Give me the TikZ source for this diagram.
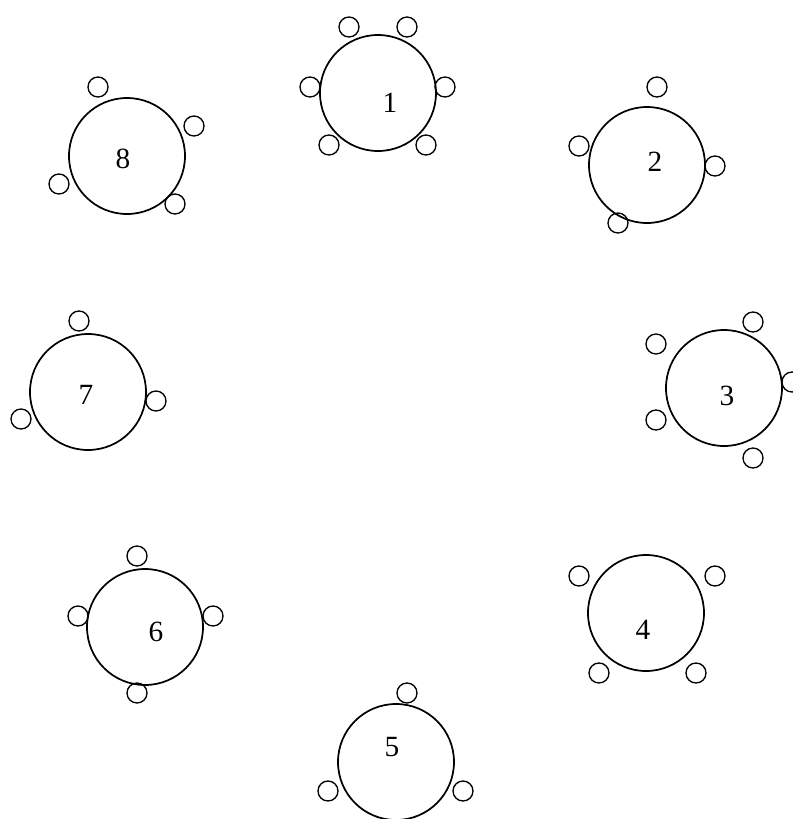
\documentclass[tikz,border=0pt]{standalone}
\usepackage{fontspec}
\setmainfont{Liberation Serif}
\usepackage{tikz}
\tikzset{
  tablebox/.style={draw=black,circle,line width=1.3pt,minimum size=87pt,inner sep=0pt},
  chairbox/.style={draw=black,circle,line width=1pt,minimum size=15pt,inner sep=0pt},
  numlabel/.style={font=\fontsize{22}{22}\selectfont,inner sep=0pt}
}
\begin{document}
\begin{tikzpicture}[x=.75pt,y=-.75pt]
\useasboundingbox (0,0) rectangle (793,819);

% tables
\node[tablebox] (t1) at (378,93) {};
\node[tablebox] (t2) at (647,165) {};
\node[tablebox] (t3) at (724,388) {};
\node[tablebox] (t4) at (646,613) {};
\node[tablebox] (t5) at (396,762) {};
\node[tablebox] (t6) at (145,627) {};
\node[tablebox] (t7) at (88,392) {};
\node[tablebox] (t8) at (127,156) {};

% numbers
\node[numlabel] (n1) at (390,103) {1};
\node[numlabel] (n2) at (655,162) {2};
\node[numlabel] (n3) at (727,396) {3};
\node[numlabel] (n4) at (643,630) {4};
\node[numlabel] (n5) at (392,747) {5};
\node[numlabel] (n6) at (156,632) {6};
\node[numlabel] (n7) at (86,395) {7};
\node[numlabel] (n8) at (123,159) {8};

% chairs
\foreach \x/\y [count=\i] in {349/27,407/27,310/87,445/87,329/145,426/145}
  \node[chairbox] (c1\i) at (\x,\y) {};
\foreach \x/\y [count=\i] in {657/87,579/146,715/166,618/223}
  \node[chairbox] (c2\i) at (\x,\y) {};
\foreach \x/\y [count=\i] in {753/322,656/344,656/420,753/458,792/382}
  \node[chairbox] (c3\i) at (\x,\y) {};
\foreach \x/\y [count=\i] in {579/576,715/576,599/673,696/673}
  \node[chairbox] (c4\i) at (\x,\y) {};
\foreach \x/\y [count=\i] in {407/693,328/791,463/791}
  \node[chairbox] (c5\i) at (\x,\y) {};
\foreach \x/\y [count=\i] in {137/556,78/616,213/616,137/693}
  \node[chairbox] (c6\i) at (\x,\y) {};
\foreach \x/\y [count=\i] in {79/321,156/401,21/419}
  \node[chairbox] (c7\i) at (\x,\y) {};
\foreach \x/\y [count=\i] in {98/87,194/126,59/184,175/204}
  \node[chairbox] (c8\i) at (\x,\y) {};
\end{tikzpicture}
\end{document}
